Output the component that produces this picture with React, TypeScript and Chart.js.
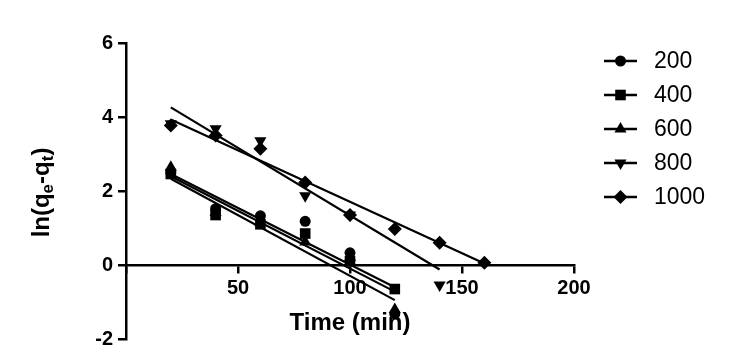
import React, { useEffect, useRef } from 'react';
import { Chart, registerables } from 'chart.js';

Chart.register(...registerables);

// ---- data ----
const times = [20, 40, 60, 80, 100, 120, 140, 160];
const seriesNames = ['200', '400', '600', '800', '1000'];
const s200 = [2.5, 1.52, 1.33, 1.18, 0.33, -1.32, null, null];
const s400 = [2.46, 1.35, 1.1, 0.85, 0.1, -0.65, null, null];
const s600 = [2.64, 1.42, 1.15, 0.62, 0.2, -1.2, null, null];
const s800 = [3.82, 3.68, 3.36, 1.87, 1.35, null, -0.54, null];
const s1000 = [3.77, 3.5, 3.14, 2.23, 1.35, 0.97, 0.6, 0.06];
const seriesValues = [s200, s400, s600, s800, s1000];

// fitted lines (start/end)
const fitX0 = [20, 20, 20, 20, 20];
const fitY0 = [2.4, 2.46, 2.33, 4.26, 3.93];
const fitX1 = [120, 120, 120, 140, 160];
const fitY1 = [-0.72, -0.6, -0.95, -0.12, 0.04];

const xTicks = [0, 50, 100, 150, 200];
const yTicks = [-2, 0, 2, 4, 6];

// ---- styles ----
const FONT = "'Liberation Sans', Arial, Helvetica, sans-serif";
const markerStyle = ['circle', 'rect', 'triangle', 'triangle', 'rectRot'];
const markerRot = [0, 0, 0, 180, 0];
const markerRad = [5.5, 7.5, 7, 7, 7];

function drawMarker(ctx: CanvasRenderingContext2D, kind: string, rot: number, r: number, x: number, y: number) {
  ctx.beginPath();
  if (kind === 'circle') {
    ctx.arc(x, y, r, 0, Math.PI * 2);
  } else if (kind === 'rect') {
    const s = Math.SQRT1_2 * r;
    ctx.rect(x - s, y - s, 2 * s, 2 * s);
  } else if (kind === 'rectRot') {
    ctx.moveTo(x - r, y);
    ctx.lineTo(x, y - r);
    ctx.lineTo(x + r, y);
    ctx.lineTo(x, y + r);
    ctx.closePath();
  } else if (kind === 'triangle') {
    let a = (rot * Math.PI) / 180;
    ctx.moveTo(x + Math.sin(a) * r, y - Math.cos(a) * r);
    a += (2 * Math.PI) / 3;
    ctx.lineTo(x + Math.sin(a) * r, y - Math.cos(a) * r);
    a += (2 * Math.PI) / 3;
    ctx.lineTo(x + Math.sin(a) * r, y - Math.cos(a) * r);
    ctx.closePath();
  }
  ctx.fillStyle = '#000';
  ctx.fill();
}

const overlayPlugin = {
  id: 'overlay',
  afterDraw(chart: any) {
    const ctx: CanvasRenderingContext2D = chart.ctx;
    // y axis title with subscripts
    ctx.save();
    ctx.translate(49, 192.5);
    ctx.rotate(-Math.PI / 2);
    ctx.fillStyle = '#000';
    ctx.textBaseline = 'alphabetic';
    const big = `bold 24px ${FONT}`;
    const small = `bold 17px ${FONT}`;
    const parts: [string, boolean][] = [
      ['ln(q', false],
      ['e', true],
      ['-q', false],
      ['t', true],
      [')', false],
    ];
    let total = 0;
    for (const [t, sub] of parts) {
      ctx.font = sub ? small : big;
      total += ctx.measureText(t).width;
    }
    let cx = -total / 2;
    for (const [t, sub] of parts) {
      ctx.font = sub ? small : big;
      ctx.fillText(t, cx, sub ? 4 : 0);
      cx += ctx.measureText(t).width;
    }
    ctx.restore();

    // legend
    ctx.save();
    for (let i = 0; i < seriesNames.length; i++) {
      const y = 61 + i * 34;
      ctx.strokeStyle = '#000';
      ctx.lineWidth = 2.5;
      ctx.beginPath();
      ctx.moveTo(604, y);
      ctx.lineTo(637, y);
      ctx.stroke();
      drawMarker(ctx, markerStyle[i], markerRot[i], markerRad[i], 620.5, y);
      ctx.font = `23px ${FONT}`;
      ctx.textBaseline = 'middle';
      ctx.fillStyle = '#000';
      ctx.fillText(seriesNames[i], 654, y + 1);
    }
    ctx.restore();
  },
};

export default function App() {
  const ref = useRef<HTMLCanvasElement | null>(null);

  useEffect(() => {
    document.body.style.margin = '0';
    const canvas = ref.current;
    if (!canvas) return;

    const datasets: any[] = [];
    seriesValues.forEach((vals, i) => {
      const pts: { x: number; y: number }[] = [];
      vals.forEach((v, j) => {
        if (v !== null) pts.push({ x: times[j], y: v as number });
      });
      datasets.push({
        type: 'scatter',
        label: seriesNames[i],
        data: pts,
        showLine: false,
        pointStyle: markerStyle[i],
        pointRotation: markerRot[i],
        pointRadius: markerRad[i],
        pointBackgroundColor: '#000',
        pointBorderColor: '#000',
        pointBorderWidth: 0,
        order: 0,
      });
    });
    seriesValues.forEach((_, i) => {
      datasets.push({
        type: 'line',
        label: 'fit ' + seriesNames[i],
        data: [
          { x: fitX0[i], y: fitY0[i] },
          { x: fitX1[i], y: fitY1[i] },
        ],
        borderColor: '#000',
        borderWidth: 2.2,
        pointRadius: 0,
        fill: false,
        order: 1,
      });
    });

    const chart = new Chart(canvas, {
      type: 'scatter',
      data: { datasets },
      plugins: [overlayPlugin],
      options: {
        animation: false,
        responsive: false,
        devicePixelRatio: 1,
        layout: { padding: { left: 0, right: 157, top: 43, bottom: 19 } },
        plugins: { legend: { display: false }, tooltip: { enabled: false } },
        scales: {
          x: {
            type: 'linear',
            position: { y: 0 } as any,
            min: 0,
            max: 200,
            afterBuildTicks: (s: any) => {
              s.ticks = xTicks.map((v) => ({ value: v }));
            },
            ticks: {
              callback: (v: any) => (v === 0 ? '' : String(v)),
              color: '#000',
              font: { family: FONT, size: 20, weight: 'bold' },
              padding: 4,
              maxRotation: 0,
              autoSkip: false,
            },
            grid: {
              drawOnChartArea: false,
              drawTicks: true,
              tickLength: 7,
              color: '#000',
              lineWidth: 2.5,
            },
            border: { display: true, color: '#000', width: 2.5 },
            title: {
              display: true,
              text: 'Time (min)',
              color: '#000',
              font: { family: FONT, size: 24, weight: 'bold' },
              padding: { top: 5, bottom: 0 },
            },
          },
          y: {
            type: 'linear',
            position: 'left',
            min: -2,
            max: 6,
            afterBuildTicks: (s: any) => {
              s.ticks = yTicks.map((v) => ({ value: v }));
            },
            afterFit: (s: any) => {
              s.width = 126;
            },
            ticks: {
              color: '#000',
              font: { family: FONT, size: 20, weight: 'bold' },
              padding: 5,
              autoSkip: false,
            },
            grid: {
              drawOnChartArea: false,
              drawTicks: true,
              tickLength: 8,
              color: '#000',
              lineWidth: 2.5,
            },
            border: { display: true, color: '#000', width: 2.5 },
          },
        },
      },
    });
    return () => chart.destroy();
  }, []);

  return (
    <div style={{ width: 731, height: 358, background: '#fff' }}>
      <canvas ref={ref} width={731} height={358} />
    </div>
  );
}
